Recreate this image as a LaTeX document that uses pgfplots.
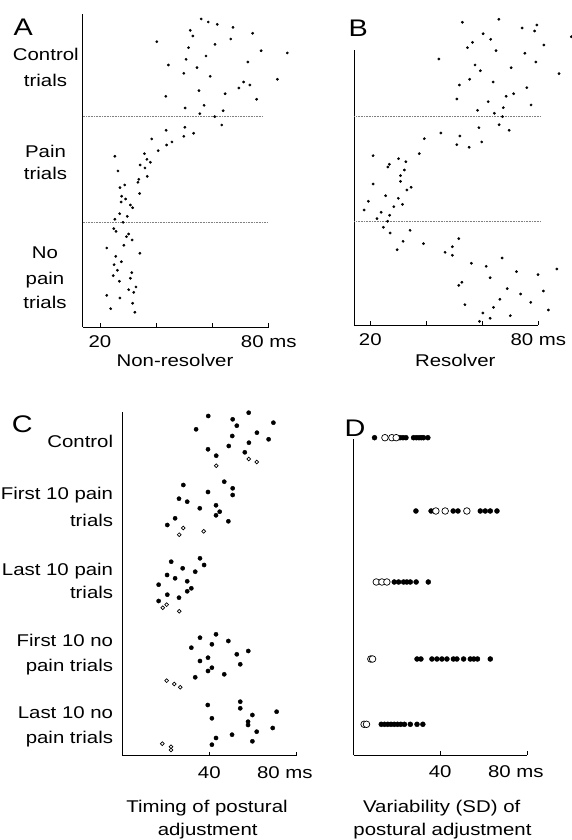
\documentclass[border=0pt]{standalone}
\usepackage{fontspec}
\setmainfont{Liberation Sans}[FakeStretch=1.2]
\usepackage{pgfplots}
\pgfplotsset{compat=1.18}
\tikzset{sep/.style={densely dotted, gray, line width=0.6pt}}
\begin{document}
\fontsize{17pt}{20pt}\selectfont
\begin{tikzpicture}
\useasboundingbox (0,0) rectangle (572pt,840pt);
\pgfplotsset{
  panel/.style={scale only axis, anchor=south west,
    axis x line*=bottom, axis y line*=left,
    axis line style={-,line width=0.7pt,black},
    ytick=\empty, xtick pos=bottom, tick align=inside,
    major tick length=4pt, tick style={black,line width=0.6pt},
    clip=false, xticklabel style={anchor=base,yshift=-21pt},
    /pgf/number format/assume math mode=true},
  sdot/.style={only marks, mark=*, mark size=1.2pt, mark options={fill=black,draw=none}},
  cdot/.style={only marks, mark=*, mark size=2.1pt, mark options={fill=black,draw=none}},
  copen/.style={only marks, mark=*, mark size=1.9pt, mark options={fill=white,draw=black,line width=0.7pt}},
  ddot/.style={only marks, mark=*, mark size=2.5pt, mark options={fill=black,draw=none}},
  dopen/.style={only marks, mark=*, mark size=3.3pt, mark options={fill=white,draw=black,line width=0.7pt}}
}
% ---------- Panel A ----------
\begin{axis}[panel, at={(82.7pt,513pt)}, width=186pt, height=313pt,
  xmin=13.85, xmax=80, ymin=-327, ymax=-14,
  xtick={20,40,60,80}, xticklabels={20,,,80 ms}]
\addplot[sdot] coordinates {(56.0,-19) (58.5,-22) (61.7,-24.3) (67.3,-27.3) (52.1,-30.3) (74.3,-33.3) (53.0,-36) (66.5,-39) (40.2,-41.7) (60.9,-44.3) (51.5,-47.7) (77.3,-50.7) (86.6,-53) (57.7,-56) (50.6,-59.3) (72.6,-62) (44.3,-65) (54.5,-67.7) (49.8,-73.3) (59.2,-76.3) (83.1,-79.3) (71.1,-82) (73.3,-85) (69.4,-88) (55.2,-90.7) (64.5,-93.7) (43.4,-96.3) (75.7,-99.3) (57.0,-105.3) (50.3,-108) (63.8,-110.7) (55.5,-113.7) (60.8,-116.7)};
\addplot[sdot] coordinates {(63.3,-125) (50.2,-127.3) (43.5,-130.3) (53.3,-133.3) (49.8,-136.3) (38.4,-139) (45.6,-142) (43.7,-145) (40.7,-150.7) (35.8,-153.7) (25.3,-156.3) (36.7,-159.3) (37.9,-162.3) (34.3,-165) (36.0,-168) (26.4,-171) (36.8,-176.3) (33.8,-179.3) (33.5,-182.3) (28.8,-185) (27.1,-187.7) (34.1,-193.5) (27.7,-196.2) (29.1,-199) (27.5,-202) (30.8,-205) (31.6,-207.7) (27.0,-213.7) (29.7,-216.3) (25.3,-219.3) (28.2,-222.3)};
\addplot[sdot] coordinates {(24.9,-228.7) (25.7,-231.3) (30.2,-234) (29.4,-236.7) (31.4,-240) (28.5,-245.3) (22.4,-248) (34.2,-253.3) (25.6,-256.3) (27.6,-261.7) (25.0,-264.7) (26.2,-270.3) (31.3,-272.7) (24.7,-275.7) (30.8,-278.3) (26.9,-281.3) (32.8,-287) (30.2,-289.7) (32.0,-292.3) (22.4,-295.3) (27.1,-298) (31.6,-303.3) (23.8,-308.7) (32.4,-312.3)};
\draw[sep] (axis cs:13.85,-116.7) -- (axis cs:78,-116.7);
\draw[sep] (axis cs:13.85,-222.3) -- (axis cs:79.7,-222.3);
\end{axis}
% ---------- Panel B ----------
\begin{axis}[panel, at={(354.3pt,515pt)}, width=184pt, height=275pt,
  xmin=14.3, xmax=80, ymin=-325, ymax=-50,
  xtick={20,40,60,80}, xticklabels={20,,,80 ms}]
\addplot[sdot] coordinates {(65.9,-19.3) (52.9,-22.3) (79.5,-25) (74.2,-28) (78.7,-31) (60.3,-33.7) (91.8,-36.7) (63.0,-39.3) (56.5,-42.3) (82.0,-45) (54.7,-47.7) (64.9,-50.7) (75.2,-53.3) (44.5,-59) (79.1,-62) (57.4,-65) (70.3,-67.7) (59.3,-70.7) (87.4,-73.7) (55.5,-79.3) (63.9,-82) (51.8,-85) (75.9,-87.7) (71.2,-93.7) (68.5,-96.3) (50.9,-99) (62.1,-101.7) (77.4,-105) (67.5,-107.7) (58.3,-110.3) (64.3,-113.3) (67.2,-116.7)};
\addplot[sdot] coordinates {(66.0,-124.7) (58.8,-127.7) (69.6,-130.3) (45.2,-133) (52.0,-136) (39.3,-138.7) (59.8,-142) (50.9,-144.7) (55.3,-147.3) (37.5,-153.7) (21.0,-155.7) (30.1,-158.7) (32.7,-161.7) (26.8,-164.3) (26.3,-167) (32.2,-170) (30.8,-175.7) (30.8,-181.3) (21.0,-184) (34.6,-187.3) (33.1,-190) (25.5,-195.7) (30.0,-198.3) (19.3,-201.3) (31.5,-204.3) (28.4,-206.7) (17.8,-210) (23.9,-212.3) (26.9,-215.3) (22.4,-218.7) (26.2,-221.3)};
\addplot[sdot] coordinates {(24.7,-227.3) (34.2,-230.3) (27.1,-233) (51.6,-238.7) (31.7,-241.3) (39.0,-243.7) (49.3,-246.7) (29.6,-249.7) (46.7,-252.3) (49.3,-255.3) (67.1,-258) (56.1,-263.3) (61.4,-266.3) (86.6,-269) (72.2,-271.7) (79.9,-274.7) (62.8,-277.7) (52.7,-282.3) (51.6,-285.3) (68.9,-288.7) (81.8,-291) (73.7,-294) (66.3,-299.3) (77.3,-302.3) (53.8,-304.7) (64.0,-307.3) (83.6,-310) (60.2,-313) (70.0,-315.7) (62.8,-318.3) (59.0,-321.3)};
\draw[sep] (axis cs:14.3,-116.7) -- (axis cs:80.6,-116.7);
\draw[sep] (axis cs:14.3,-221) -- (axis cs:80.6,-221);
\end{axis}
% ---------- Panel C ----------
\begin{axis}[panel, at={(122.7pt,84.3pt)}, width=173.2pt, height=344pt,
  xmin=0, xmax=80, ymin=-755.7, ymax=-411.7,
  xtick={40,80}, xticklabels={40,{\hspace*{-22pt}80 ms}},
  xticklabel style={yshift=-2pt}]
% Control
\addplot[cdot] coordinates {(39.5,-416) (58.2,-412.7) (50.8,-419.3) (69.6,-422.7) (52.7,-425.7) (33.9,-429.3) (62.0,-432.7) (50.6,-436) (67.4,-439.3) (58.3,-442.7) (49.0,-446) (39.4,-449.3) (56.4,-452.3) (43.2,-455.7)};
\addplot[copen] coordinates {(58.2,-459) (61.9,-462) (43.2,-465.7)};
% First 10 pain trials
\addplot[cdot] coordinates {(46.9,-481.7) (28.0,-485) (50.8,-488.3) (39.4,-492) (50.8,-495) (26.0,-498.7) (29.8,-501.7) (43.1,-505.3) (35.6,-508.3) (44.8,-511.7) (43.1,-515.3) (24.2,-518.3) (48.8,-521.3) (20.6,-525)};
\addplot[copen] coordinates {(28.0,-528) (37.4,-531.3) (26.1,-534.7)};
% Last 10 pain trials
\addplot[cdot] coordinates {(35.7,-558.3) (22.4,-561.7) (37.6,-565) (27.7,-568.3) (33.5,-571.7) (20.5,-575) (24.2,-578.3) (29.8,-581.3) (16.6,-584.7) (31.7,-588.3) (29.8,-591.3) (20.6,-594.7) (26.0,-597.7) (16.6,-601)};
\addplot[copen] coordinates {(20.3,-604.7) (18.5,-607.7) (26.1,-611.3)};
% First 10 no pain trials
\addplot[cdot] coordinates {(43.1,-634.3) (35.7,-637.7) (48.8,-641) (41.2,-644.3) (31.7,-647.7) (58.0,-651) (52.7,-654.3) (39.4,-657.7) (35.7,-661) (54.3,-664.3) (41.2,-667.7) (39.4,-671) (46.9,-674.3) (33.5,-677.3)};
\addplot[copen] coordinates {(20.3,-680.7) (23.8,-684) (26.6,-687.3)};
% Last 10 no pain trials
\addplot[cdot] coordinates {(54.3,-701.7) (39.3,-705) (54.3,-708.3) (71.1,-711.7) (59.9,-715) (41.2,-718.3) (57.9,-721.7) (57.9,-725) (69.3,-728) (61.9,-731.7) (50.5,-734.7) (43.1,-738) (59.9,-741.3) (41.2,-744.7)};
\addplot[copen] coordinates {(18.3,-743.7) (22.3,-746.7) (22.3,-750)};
\end{axis}
% ---------- Panel D ----------
\begin{axis}[panel, at={(353.5pt,85pt)}, width=173.4pt, height=315.7pt,
  xmin=0, xmax=80, ymin=-755, ymax=-439.3,
  xtick={40,80}, xticklabels={40,{\hspace*{-22pt}80 ms}},
  xticklabel style={yshift=-2pt}]
\addplot[ddot] coordinates {(9.7,-437.7) (21.5,-437.7) (22.8,-437.7) (24.2,-437.7) (27.7,-437.7) (29.0,-437.7) (30.2,-437.7) (31.3,-437.7) (32.3,-437.7) (34.3,-437.7)};
\addplot[dopen] coordinates {(14.5,-437.7) (17.7,-437.7) (19.7,-437.7)};
\addplot[ddot] coordinates {(28.8,-511) (35.8,-511) (46.0,-511) (48.2,-511) (58.5,-511) (60.8,-511) (63.1,-511) (66.2,-511)};
\addplot[dopen] coordinates {(38.0,-511) (42.3,-511) (52.3,-511)};
\addplot[ddot] coordinates {(18.8,-582) (20.8,-582) (23.1,-582) (24.6,-582) (26.2,-582) (28.9,-582) (34.5,-582)};
\addplot[dopen] coordinates {(10.5,-582) (13.1,-582) (15.4,-582)};
\addplot[ddot] coordinates {(29.3,-659) (31.1,-659) (36.2,-659) (38.5,-659) (40.8,-659) (43.1,-659) (46.1,-659) (47.7,-659) (50.8,-659) (53.9,-659) (55.5,-659) (57.2,-659) (63.1,-659)};
\addplot[dopen] coordinates {(8.0,-659) (8.8,-659)};
\addplot[ddot] coordinates {(12.8,-724.3) (14.3,-724.3) (15.8,-724.3) (17.3,-724.3) (18.8,-724.3) (20.3,-724.3) (21.8,-724.3) (23.5,-724.3) (26.2,-724.3) (29.3,-724.3) (32.0,-724.3)};
\addplot[dopen] coordinates {(4.9,-724.3) (6.0,-724.3)};
\end{axis}
% ---------- Text ----------
\begin{scope}[every node/.style={inner sep=0pt}]
\node[anchor=base west,font=\fontsize{24pt}{28pt}\selectfont] at (13.3pt,804.3pt) {A};
\node[anchor=base west,font=\fontsize{24pt}{28pt}\selectfont] at (348.3pt,803.3pt) {B};
\node[anchor=base west,font=\fontsize{24pt}{28pt}\selectfont] at (11.7pt,407pt) {C};
\node[anchor=base west,font=\fontsize{24pt}{28pt}\selectfont] at (344.3pt,403.3pt) {D};
\node[anchor=base] at (45.8pt,779pt) {Control};
\node[anchor=base] at (45.5pt,753.3pt) {trials};
\node[anchor=base] at (45.5pt,682.7pt) {Pain};
\node[anchor=base] at (45.5pt,660pt) {trials};
\node[anchor=base] at (45pt,581.7pt) {No};
\node[anchor=base] at (45pt,555.7pt) {pain};
\node[anchor=base] at (45pt,531pt) {trials};
\node[anchor=base] at (175pt,473.3pt) {Non-resolver};
\node[anchor=base] at (455.3pt,473.3pt) {Resolver};
\node[anchor=base east] at (113.3pt,392.3pt) {Control};
\node[anchor=base east] at (113.3pt,340pt) {First 10 pain};
\node[anchor=base east] at (113.3pt,313.3pt) {trials};
\node[anchor=base east] at (113.3pt,264.3pt) {Last 10 pain};
\node[anchor=base east] at (113.3pt,241.7pt) {trials};
\node[anchor=base east] at (113.3pt,193.3pt) {First 10 no};
\node[anchor=base east] at (113.3pt,168.3pt) {pain trials};
\node[anchor=base east] at (113.3pt,121pt) {Last 10 no};
\node[anchor=base east] at (113.3pt,96pt) {pain trials};
\node[anchor=base] at (207pt,27.3pt) {Timing of postural};
\node[anchor=base] at (207.7pt,4.3pt) {adjustment};
\node[anchor=base] at (441.7pt,27.3pt) {Variability (SD) of};
\node[anchor=base] at (442.5pt,4.3pt) {postural adjustment};
\end{scope}
\end{tikzpicture}
\end{document}
